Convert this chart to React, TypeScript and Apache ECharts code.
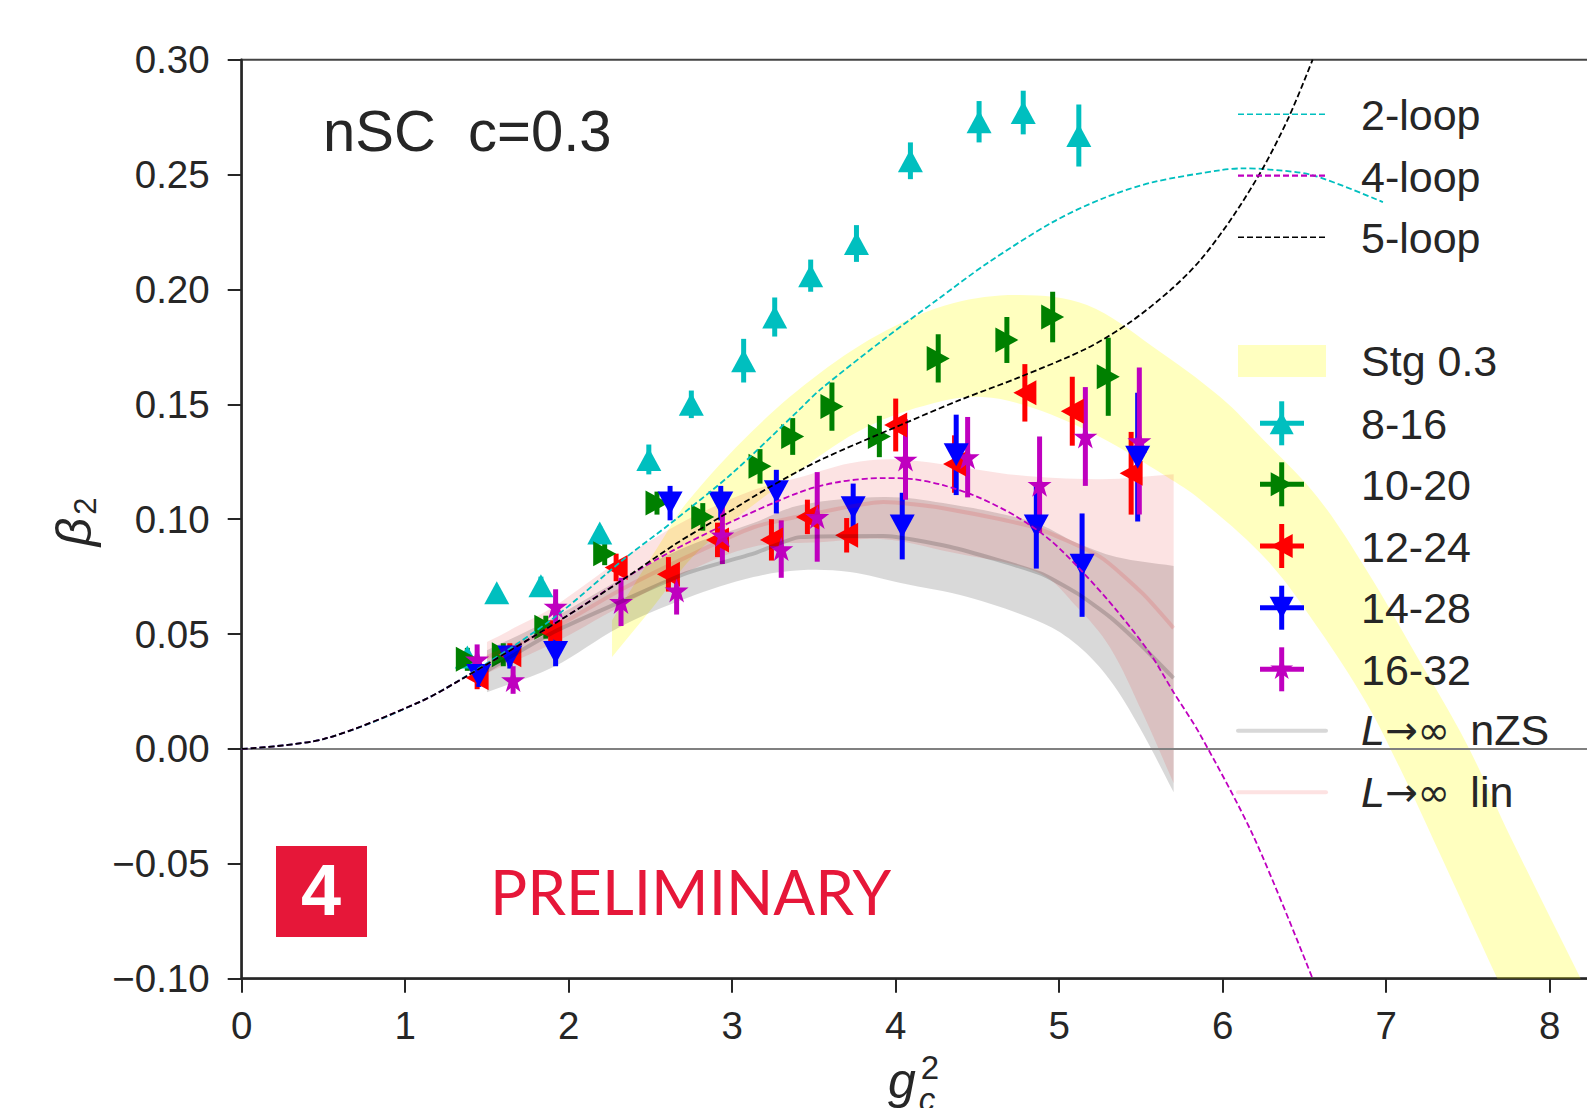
import React, { useEffect, useRef } from "react";
import * as echarts from "echarts";

const FONT = '"Liberation Sans", Arial, sans-serif';
const TXT = "#262626";

// x, y, error half-height
const set8_16 = [[1.38,.040,.002],[1.56,.068,.002],[1.83,.071,.004],[2.19,.094,.003],[2.49,.126,.0065],[2.75,.150,.006],[3.07,.169,.0095],[3.26,.188,.0085],[3.48,.206,.007],[3.76,.220,.008],[4.09,.256,.008],[4.51,.273,.009],[4.78,.277,.0095],[5.12,.267,.0135]];
const set10_20 = [[1.38,.039,.005],[1.60,.041,.005],[1.86,.053,.005],[2.22,.085,.005],[2.54,.107,.005],[2.82,.101,.006],[3.17,.123,.0075],[3.37,.136,.008],[3.61,.149,.0105],[3.90,.136,.009],[4.26,.170,.0105],[4.68,.178,.010],[4.96,.188,.011],[5.30,.162,.017]];
const set12_24 = [[1.44,.031,.005],[1.64,.041,.005],[1.89,.051,.005],[2.29,.079,.006],[2.61,.076,.0075],[2.91,.091,.0075],[3.24,.091,.009],[3.46,.101,.0075],[3.70,.093,.0075],[4.00,.141,.0115],[4.36,.124,.0125],[4.79,.155,.0125],[5.08,.147,.015],[5.44,.120,.018]];
const set14_28 = [[1.45,.032,.005],[1.64,.040,.005],[1.92,.042,.006],[2.62,.107,.0075],[2.93,.107,.0075],[3.27,.112,.0095],[3.74,.105,.0105],[4.04,.097,.0145],[4.37,.128,.0175],[4.86,.097,.0185],[5.14,.080,.0225],[5.48,.127,.028]];
const set16_32 = [[1.44,.039,.0065],[1.66,.030,.006],[1.92,.062,.0075],[2.32,.064,.0105],[2.66,.069,.0105],[2.94,.093,.0125],[3.30,.087,.0125],[3.52,.101,.0195],[4.06,.126,.0175],[4.44,.127,.0175],[4.88,.115,.021],[5.16,.136,.0215],[5.49,.134,.032]];

const loop2 = [[0,0],[.5,.0043],[1.09,.0205],[1.5,.0373],[1.906,.0569],[2.344,.083],[2.62,.098],[3.0,.12],[3.415,.148],[3.535,.1562],[3.946,.1793],[4.25,.1953],[4.56,.2114],[4.96,.2293],[5.27,.2397],[5.575,.2467],[5.985,.2519],[6.12,.2527],[6.25,.2524],[6.55,.2497],[6.98,.238]];
const loop4 = [[0,0],[.5,.0043],[1.09,.0205],[1.355,.0308],[1.947,.056],[2.357,.0749],[2.62,.0857],[2.925,.0966],[3.415,.1118],[3.66,.1163],[3.925,.1179],[4.11,.1174],[4.29,.1148],[4.5,.1097],[4.74,.1011],[4.945,.0909],[5.15,.0765],[5.35,.0604],[5.555,.0416],[5.70,.0246],[5.86,.0065],[6.19,-.0383],[6.55,-.10]];
const loop5 = [[0,0],[.5,.0043],[1.09,.0205],[1.355,.0308],[1.947,.056],[2.357,.0749],[2.66,.0895],[2.925,.1008],[3.23,.114],[3.537,.1257],[4.03,.141],[4.39,.1518],[4.76,.1619],[5.17,.1744],[5.435,.1858],[5.68,.1997],[5.86,.2125],[6.06,.2315],[6.25,.2533],[6.41,.2759],[6.55,.30]];

// outlines; corner points are listed twice so that they stay sharp
const stgBand = [[2.265,.056],[2.265,.056],[2.56,.0896],[2.72,.107],[3.13,.1388],[3.535,.1635],[3.946,.1823],[4.35,.194],[4.76,.1976],[5.17,.1932],[5.575,.175],[5.985,.1532],[6.25,.1345],[6.58,.1096],[6.88,.0778],[7.19,.04],[7.49,.0025],[7.76,-.0383],[8.19,-.10],[8.19,-.10],[7.68,-.10],[7.68,-.10],[7.29,-.0397],[7.08,-.0078],[6.88,.0199],[6.58,.053],[6.27,.0822],[5.86,.1087],[5.66,.1184],[5.25,.1358],[4.84,.1484],[4.53,.1532],[4.23,.1505],[3.82,.14],[3.415,.1213],[2.80,.0866],[2.516,.0618],[2.265,.040],[2.265,.040]];
const linBand = [[1.5,.0465],[1.5,.0465],[1.70,.0539],[1.906,.0618],[2.31,.082],[2.72,.0996],[3.13,.1127],[3.415,.1183],[3.72,.1244],[3.99,.1261],[4.33,.1235],[4.74,.1192],[5.25,.1174],[5.70,.1196],[5.70,.1196],[5.70,-.0149],[5.70,-.0149],[5.51,.0156],[5.31,.0443],[5.11,.0617],[4.88,.0765],[4.33,.0857],[3.925,.0913],[3.537,.09],[3.13,.088],[2.72,.077],[2.31,.0618],[1.906,.046],[1.5,.033],[1.5,.033]];
const nzsBand = [[1.5,.043],[1.5,.043],[1.906,.057],[2.31,.0735],[2.72,.088],[3.13,.0983],[3.415,.1061],[3.925,.1097],[4.29,.107],[4.84,.0988],[5.11,.0896],[5.35,.0835],[5.70,.0796],[5.70,.0796],[5.70,-.0188],[5.70,-.0188],[5.49,.0095],[5.31,.03],[5.11,.0452],[4.9,.0547],[4.44,.0661],[4.03,.0722],[3.72,.077],[3.415,.0778],[3.13,.0748],[2.72,.0656],[2.31,.053],[1.906,.0357],[1.5,.0247],[1.5,.0247]];
const nzsMean = [[1.5,.034],[1.906,.0508],[2.31,.0638],[2.72,.0765],[3.13,.085],[3.415,.0922],[3.925,.0927],[4.33,.088],[4.88,.0765],[5.11,.0677],[5.31,.0575],[5.51,.0445],[5.70,.0308]];
const linMean = [[1.5,.04],[1.906,.0525],[2.31,.069],[2.72,.0835],[3.13,.0965],[3.537,.103],[3.925,.1075],[4.29,.1048],[4.84,.0966],[5.25,.0836],[5.51,.0677],[5.70,.0526]];
const zeroLine = [[0,0],[9,0]];

const yTicksFmt = (v: number) => (v < 0 ? "\u2212" : "") + Math.abs(v).toFixed(2);

const STAR = "path://M0,-100L22.45,-30.9L95.1,-30.9L36.33,11.8L58.78,80.9L0,38.2L-58.78,80.9L-36.33,11.8L-95.1,-30.9L-22.45,-30.9Z";

const CYAN = "rgb(0,191,191)";
const GREEN = "rgb(0,128,0)";
const RED = "rgb(255,0,0)";
const BLUE = "rgb(0,0,255)";
const MAGENTA = "rgb(191,0,191)";

function band(pts: number[][], fill: string) {
  return {
    type: "custom", coordinateSystem: "cartesian2d", data: pts, encode: { x: 0, y: 1 }, silent: true, clip: true,
    renderItem: (p: any, api: any) => p.dataIndex === 0
      ? { type: "polygon", shape: { points: pts.map((q) => api.coord(q)), smooth: 0.35 }, style: { fill } }
      : null,
  };
}
function bars(pts: number[][], stroke: string) {
  return {
    type: "custom", coordinateSystem: "cartesian2d", data: pts, encode: { x: 0, y: 1 }, silent: true,
    renderItem: (_: any, api: any) => {
      const x = api.value(0), y = api.value(1), e = api.value(2);
      const a = api.coord([x, y - e]), b = api.coord([x, y + e]);
      return { type: "line", shape: { x1: a[0], y1: a[1], x2: b[0], y2: b[1] }, style: { stroke, lineWidth: 5 } };
    },
  };
}
function marks(pts: number[][], color: string, symbol: string, rot: number, size: any) {
  return {
    type: "scatter", data: pts.map((p) => [p[0], p[1]]), symbol, symbolRotate: rot, symbolSize: size, silent: true,
    itemStyle: { color, opacity: 1 },
  };
}
function curve(data: number[][], color: string, width: number, dashed: boolean) {
  return {
    type: "line", data, symbol: "none", smooth: dashed ? 0.3 : 0.2, silent: true,
    lineStyle: { color, width, type: dashed ? [6, 3] : "solid" },
  };
}

const richInf = {
  i: { fontStyle: "italic", fontSize: 43, fontFamily: FONT, fill: TXT },
  s: { fontSize: 39, fontFamily: "DejaVu Sans", fill: TXT },
  sp: { fontSize: 30, fontFamily: FONT, fill: TXT },
};
function label(text: string, y: number, extra: any = {}) {
  return {
    type: "text", x: 1361, y, z: 100, silent: true,
    style: { text, fontSize: 43, fontFamily: FONT, fill: TXT, align: "left", verticalAlign: "middle", ...extra },
  };
}
function legendDash(y: number, stroke: string, lineWidth = 1.6) {
  return { type: "line", z: 99, silent: true, shape: { x1: 1238, y1: y, x2: 1326, y2: y }, style: { stroke, lineWidth, lineDash: [6, 3] } };
}
function legendSolid(y: number, stroke: string) {
  return { type: "line", z: 99, silent: true, shape: { x1: 1238, y1: y, x2: 1326, y2: y }, style: { stroke, lineWidth: 4, lineCap: "round" } };
}
function legendCross(y: number, stroke: string) {
  return [
    { type: "line", z: 99, silent: true, shape: { x1: 1260, y1: y, x2: 1304, y2: y }, style: { stroke, lineWidth: 5 } },
    { type: "line", z: 99, silent: true, shape: { x1: 1281.7, y1: y - 22, x2: 1281.7, y2: y + 22 }, style: { stroke, lineWidth: 5 } },
  ];
}
function tri(y: number, fill: string, dir: string) {
  const cx = 1281.7, w = 12, h = 11;
  const p: Record<string, number[][]> = {
    up: [[cx, y - h], [cx + w, y + h], [cx - w, y + h]],
    down: [[cx, y + h], [cx + w, y - h], [cx - w, y - h]],
    left: [[cx - h, y], [cx + h, y - w], [cx + h, y + w]],
    right: [[cx + h, y], [cx - h, y - w], [cx - h, y + w]],
  };
  return { type: "polygon", z: 100, silent: true, shape: { points: p[dir] }, style: { fill } };
}
function star(y: number, fill: string) {
  const r = 12, ri = r * 0.382, points: number[][] = [];
  for (let i = 0; i < 10; i++) {
    const a = -Math.PI / 2 + (i * Math.PI) / 5, q = i % 2 ? ri : r;
    points.push([1281.7 + q * Math.cos(a), y + q * Math.sin(a)]);
  }
  return { type: "polygon", z: 100, silent: true, shape: { points }, style: { fill } };
}

export default function App() {
  const ref = useRef<HTMLDivElement>(null);
  useEffect(() => {
    document.body.style.margin = "0";
    const chart = echarts.init(ref.current!, undefined, { renderer: "svg" });
    const graphic: any[] = [
      legendDash(114.3, CYAN), label("2-loop", 115),
      legendDash(175.7, MAGENTA, 2.2), label("4-loop", 176.5),
      legendDash(237.3, "#000"), label("5-loop", 238),
      { type: "rect", z: 99, silent: true, shape: { x: 1238, y: 345, width: 88, height: 32 }, style: { fill: "rgb(255,255,192)" } }, label("Stg 0.3", 361),
      ...legendCross(423.3, CYAN), tri(423.3, CYAN, "up"), label("8-16", 424),
      ...legendCross(484.3, GREEN), tri(484.3, GREEN, "right"), label("10-20", 485),
      ...legendCross(546, RED), tri(546, RED, "left"), label("12-24", 546.5),
      ...legendCross(607.7, BLUE), tri(607.7, BLUE, "down"), label("14-28", 608),
      ...legendCross(669.3, MAGENTA), star(669.3, MAGENTA), label("16-32", 670),
      legendSolid(730.7, "rgb(216,216,216)"),
      label("{i|L}{s|\u2192\u221E}{sp| } nZS", 730, { rich: richInf }),
      legendSolid(792.3, "rgb(253,226,226)"),
      label("{i|L}{s|\u2192\u221E}{sp| } lin", 792, { rich: richInf }),
      { type: "text", x: 323, y: 130, z: 100, silent: true, style: { text: "nSC  c=0.3", fontSize: 58, fontFamily: FONT, fill: TXT, align: "left", verticalAlign: "middle" } },
      { type: "rect", z: 100, silent: true, shape: { x: 276, y: 846, width: 91, height: 91 }, style: { fill: "rgb(230,23,57)" } },
      { type: "text", x: 321, y: 890, z: 101, silent: true, style: { text: "4", fontSize: 72, fontWeight: "bold", fontFamily: FONT, fill: "#fff", align: "center", verticalAlign: "middle" } },
      { type: "text", x: 490, y: 891, z: 100, silent: true, style: { text: "PRELIMINARY", fontSize: 62, fontFamily: "Lato", fill: "rgb(230,23,57)", align: "left", verticalAlign: "middle" } },
      { type: "text", x: 902, y: 1081, z: 100, silent: true, style: { text: "g", fontSize: 50, fontStyle: "italic", fontFamily: FONT, fill: TXT, align: "center", verticalAlign: "middle" } },
      { type: "text", x: 930, y: 1067, z: 100, silent: true, style: { text: "2", fontSize: 33, fontFamily: FONT, fill: TXT, align: "center", verticalAlign: "middle" } },
      { type: "text", x: 927, y: 1099, z: 100, silent: true, style: { text: "c", fontSize: 33, fontStyle: "italic", fontFamily: FONT, fill: TXT, align: "center", verticalAlign: "middle" } },
      { type: "text", x: 74, y: 532, rotation: Math.PI / 2, z: 100, silent: true, style: { text: "\u03B2", fontSize: 50, fontStyle: "italic", fontFamily: FONT, fill: TXT, align: "center", verticalAlign: "middle" } },
      { type: "text", x: 85, y: 506, rotation: Math.PI / 2, z: 100, silent: true, style: { text: "2", fontSize: 31, fontFamily: FONT, fill: TXT, align: "center", verticalAlign: "middle" } },
    ];
    chart.setOption({
      animation: false,
      backgroundColor: "#fff",
      textStyle: { fontFamily: FONT },
      grid: { show: true, left: 241.7, top: 59.7, width: 1471.5, height: 919, borderColor: "#444", borderWidth: 2, backgroundColor: "transparent", containLabel: false, outerBoundsMode: "none" },
      xAxis: {
        type: "value", min: 0, max: 9, interval: 1, splitLine: { show: false },
        axisLine: { show: true, onZero: false, lineStyle: { color: TXT, width: 2.5 } },
        axisTick: { show: true, length: 14, lineStyle: { color: TXT, width: 2 } },
        axisLabel: { margin: 27, fontSize: 38.5, color: TXT, fontFamily: FONT, showMaxLabel: false, formatter: (v: number) => String(v) },
      },
      yAxis: {
        type: "value", min: -0.1, max: 0.3, interval: 0.05, splitLine: { show: false },
        axisLine: { show: true, lineStyle: { color: TXT, width: 2.5 } },
        axisTick: { show: true, length: 14, lineStyle: { color: TXT, width: 2 } },
        axisLabel: { margin: 32, fontSize: 38.5, color: TXT, fontFamily: FONT, formatter: yTicksFmt },
      },
      series: [
        band(stgBand, "rgba(255,255,0,0.25)"),
        band(nzsBand, "rgba(0,0,0,0.15)"),
        band(linBand, "rgba(230,0,0,0.11)"),
        curve(zeroLine, "#808080", 2, false),
        curve(nzsMean, "rgba(0,0,0,0.17)", 4, false),
        curve(linMean, "rgba(230,0,0,0.12)", 4, false),
        bars(set8_16, CYAN), bars(set10_20, GREEN), bars(set12_24, RED), bars(set14_28, BLUE), bars(set16_32, MAGENTA),
        curve(loop2, CYAN, 1.8, true), curve(loop4, MAGENTA, 1.8, true), curve(loop5, "#000", 1.8, true),
        marks(set8_16, CYAN, "triangle", 0, [25, 23]),
        marks(set10_20, GREEN, "triangle", -90, [25, 23]),
        marks(set12_24, RED, "triangle", 90, [25, 23]),
        marks(set16_32, MAGENTA, STAR, 0, [24, 24]),
        marks(set14_28, BLUE, "triangle", 180, [25, 23]),
      ],
      graphic,
    });
    return () => chart.dispose();
  }, []);
  return <div ref={ref} style={{ position: "absolute", left: 0, top: 0, width: 1587, height: 1108, overflow: "hidden" }} />;
}
